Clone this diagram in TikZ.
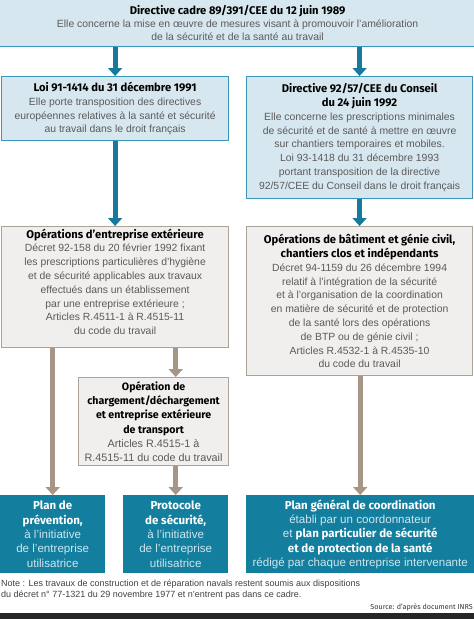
\documentclass[tikz,border=0pt]{standalone}
\usepackage{fontspec}
\setmainfont{Liberation Sans}
\newfontfamily\titlefont{Fira Sans}
\usepackage{xcolor}
\usetikzlibrary{arrows.meta, positioning}
\definecolor{paleblue}{HTML}{D7E7F0}
\definecolor{lineblue}{HTML}{3A95BB}
\definecolor{arrowblue}{HTML}{17799C}
\definecolor{palegray}{HTML}{F0EFED}
\definecolor{linegray}{HTML}{ACA398}
\definecolor{arrowbrown}{HTML}{A59685}
\definecolor{planteal}{HTML}{137E9E}
\definecolor{bodygray}{HTML}{5A5A5A}
\definecolor{planbody}{HTML}{CFE6EE}
\newcommand{\boxtitle}[1]{{\titlefont\bfseries\fontsize{11.2}{13.8}\selectfont\color{black}#1}}
\newcommand{\plantitle}[1]{{\titlefont\bfseries\fontsize{11.5}{14.3}\selectfont\color{white}#1}}
\tikzset{
    lawbox/.style={
        rectangle,
        draw=lineblue,
        line width=1.2pt,
        fill=paleblue,
        text=bodygray,
        align=center,
        inner sep=1pt,
        anchor=north west,
        font=\fontsize{10.4}{13.8}\selectfont
    },
    opbox/.style={
        lawbox,
        draw=linegray,
        fill=palegray
    },
    planbox/.style={
        rectangle,
        fill=planteal,
        text=planbody,
        align=center,
        inner sep=1pt,
        anchor=north west,
        minimum height=78pt,
        font=\fontsize{11.6}{14.3}\selectfont
    },
    bluelink/.style={
        draw=arrowblue,
        line width=5pt,
        -{Triangle[width=14pt,length=8pt]}
    },
    brownlink/.style={
        draw=arrowbrown,
        line width=5pt,
        -{Triangle[width=14pt,length=8pt]}
    }
}

\begin{document}
\begin{tikzpicture}[x=1pt, y=-1pt]
\useasboundingbox (0,0) rectangle (474,619);

% Framework directive
\node[lawbox, minimum width=478pt, minimum height=48pt, font=\fontsize{10.4}{13}\selectfont] (cadre) at (-2,-2) {\boxtitle{Directive cadre 89/391/CEE du 12 juin 1989}\\
Elle concerne la mise en œuvre de mesures visant à promouvoir l’amélioration\\
de la sécurité et de la santé au travail};

% Transposition laws
\node[lawbox, minimum width=227pt, minimum height=64pt] (loi) at (1,76) {\boxtitle{Loi 91-1414 du 31 décembre 1991}\\
Elle porte transposition des directives\\
européennes relatives à la santé et sécurité\\
au travail dans le droit français};

\node[lawbox, minimum width=226pt, minimum height=122pt] (conseil) at (246,76) {\boxtitle{Directive 92/57/CEE du Conseil}\\
\boxtitle{du 24 juin 1992}\\
Elle concerne les prescriptions minimales\\
de sécurité et de santé à mettre en œuvre\\
sur chantiers temporaires et mobiles.\\
Loi 93-1418 du 31 décembre 1993\\
portant transposition de la directive\\
92/57/CEE du Conseil dans le droit français};

% Operations
\node[opbox, minimum width=227pt, minimum height=121pt] (extop) at (1,226) {\boxtitle{Opérations d’entreprise extérieure}\\
Décret 92-158 du 20 février 1992 fixant\\
les prescriptions particulières d’hygiène\\
et de sécurité applicables aux travaux\\
effectués dans un établissement\\
par une entreprise extérieure ;\\
Articles R.4511-1 à R.4515-11\\
du code du travail\\[-3pt]};

\node[opbox, minimum width=226pt, minimum height=149pt] (btp) at (246,226) {\boxtitle{Opérations de bâtiment et génie civil,}\\
\boxtitle{chantiers clos et indépendants}\\
Décret 94-1159 du 26 décembre 1994\\
relatif à l’intégration de la sécurité\\
et à l’organisation de la coordination\\
en matière de sécurité et de protection\\
de la santé lors des opérations\\
de BTP ou de génie civil ;\\
Articles R.4532-1 à R.4535-10\\
du code du travail};

\node[opbox, minimum width=150pt, minimum height=88pt, font=\fontsize{10.8}{14.3}\selectfont] (charg) at (78,377) {{\titlefont\bfseries\fontsize{10.6}{14.3}\selectfont\color{black}Opération de}\\
{\titlefont\bfseries\fontsize{10.6}{14.3}\selectfont\color{black}chargement/déchargement}\\
{\titlefont\bfseries\fontsize{10.6}{14.3}\selectfont\color{black}et entreprise extérieure}\\
{\titlefont\bfseries\fontsize{10.6}{14.3}\selectfont\color{black}de transport}\\
Articles R.4515-1 à\\
R.4515-11 du code du travail};

% Plans
\node[planbox, minimum width=105pt] (prev) at (0,495) {\plantitle{Plan de}\\
\plantitle{prévention,}\\
à l’initiative\\
de l’entreprise\\
utilisatrice};

\node[planbox, minimum width=105pt] (proto) at (123,495) {\plantitle{Protocole}\\
\plantitle{de sécurité,}\\
à l’initiative\\
de l’entreprise\\
utilisatrice};

\node[planbox, minimum width=228pt] (pgc) at (246,495) {\plantitle{Plan général de coordination}\\
établi par un coordonnateur\\
et \plantitle{plan particulier de sécurité}\\
\plantitle{et de protection de la santé}\\
rédigé par chaque entreprise intervenante};

% Note and source
\node[anchor=north west, inner sep=0pt, align=left, text=black!75, font=\fontsize{9}{11}\selectfont] (note) at (1,580) {Note : Les travaux de construction et de réparation navals restent soumis aux dispositions\\
du décret n° 77-1321 du 29 novembre 1977 et n’entrent pas dans ce cadre.};
\node[anchor=east, inner sep=0pt, text=black!80, font=\titlefont\fontsize{7.2}{8}\selectfont] (source) at (473,607.5) {Source: d’après document INRS};
\fill[black!85] (0,613) rectangle (474,619);

% Links
\draw[bluelink] (loi.north |- cadre.south) -- (loi.north);
\draw[bluelink] (conseil.north |- cadre.south) -- (conseil.north);
\draw[bluelink] (loi.south) -- (loi.south |- extop.north);
\draw[bluelink] (conseil.south) -- (conseil.south |- btp.north);
\draw[brownlink] (prev.north |- extop.south) -- (prev.north);
\draw[brownlink] (proto.north |- extop.south) -- (proto.north |- charg.north);
\draw[brownlink] (proto.north |- charg.south) -- (proto.north);
\draw[brownlink] (pgc.north |- btp.south) -- (pgc.north);

\end{tikzpicture}
\end{document}
